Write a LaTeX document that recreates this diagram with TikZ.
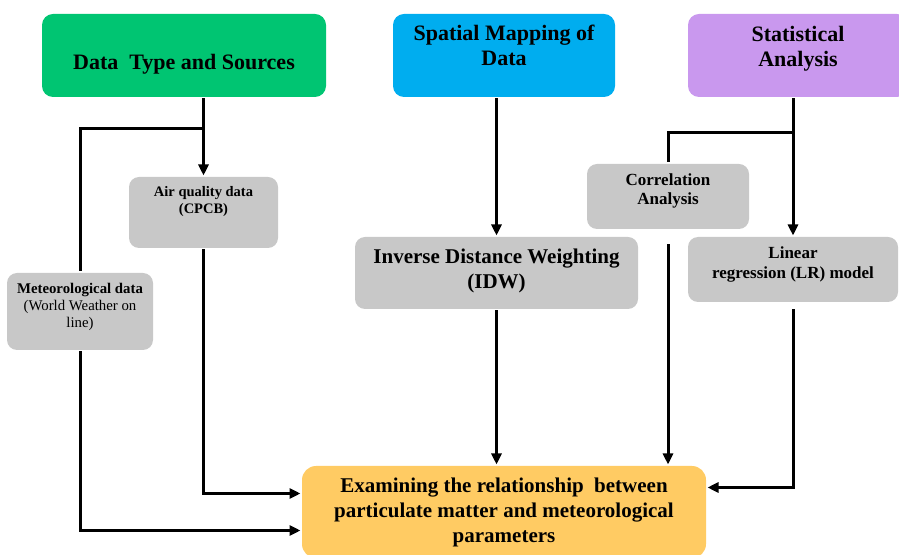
\documentclass[tikz,border=0pt]{standalone}
\usepackage{fontspec}
\setmainfont{Liberation Serif}
\usepackage{tikz}
\usetikzlibrary{arrows,arrows.meta,positioning,calc}

\definecolor{boxgreen}{HTML}{00C572}
\definecolor{boxblue}{HTML}{00ADEF}
\definecolor{boxpurple}{HTML}{C998EE}
\definecolor{boxgray}{HTML}{C8C8C8}
\definecolor{boxyellow}{HTML}{FFCB63}

\begin{document}
\begin{tikzpicture}[->,>={Triangle[length=11pt,width=10pt]},x=1pt,y=1pt,line width=3pt,
  head node/.style={rounded corners=11pt,inner sep=0pt,align=center,
    font=\fontsize{22}{25}\selectfont\bfseries,minimum height=83pt},
  sub node/.style={fill=boxgray,rounded corners=10pt,inner sep=0pt,align=center}]
    \useasboundingbox (0,0) rectangle (899,554);
    \node[head node,fill=boxgreen,minimum width=284pt,text height=33pt](data) at (184,498.5){Data\ \ Type and Sources};
    \node[head node,fill=boxblue,minimum width=222pt,text depth=21pt](spatial) at (504,498.5){Spatial Mapping of\\Data};
    \node[head node,fill=boxpurple,minimum width=220pt,text depth=18pt](stat) at (798,498.5){Statistical\\Analysis};
    \node[sub node,minimum width=149pt,minimum height=71pt,text depth=26pt,
      font=\fontsize{14.5}{17}\selectfont](air) at (203.5,341.5){\textbf{Air quality data}\\\textbf{(CPCB)}};
    \node[sub node,minimum width=146pt,minimum height=77pt,text depth=12pt,
      font=\fontsize{14.8}{17}\selectfont](meteo) at (80,242.5){\textbf{Meteorological data}\\(World Weather on\\line)};
    \node[sub node,minimum width=283pt,minimum height=72pt,text depth=8pt,
      font=\fontsize{21}{25}\selectfont\bfseries](idw) at (496.5,281){Inverse Distance Weighting\\(IDW)};
    \node[sub node,minimum width=162pt,minimum height=65pt,text depth=14pt,
      font=\fontsize{17}{19}\selectfont\bfseries](corr) at (668,357.5){Correlation\\Analysis};
    \node[sub node,minimum width=210pt,minimum height=65pt,text depth=14pt,
      font=\fontsize{17}{20}\selectfont\bfseries](lr) at (793,284.5){Linear\\regression (LR) model};
    \node[rounded corners=14pt,fill=boxyellow,inner sep=0pt,align=center,minimum width=404pt,
      minimum height=92pt,font=\fontsize{21}{25}\selectfont\bfseries](res) at (504,42)
      {Examining the relationship\ \ between\\particulate matter and meteorological\\parameters};
    \coordinate (dsplit) at (air.north |- 0,425);
    \coordinate (ssplit) at (lr.north |- 0,421);
    \draw[-] (data.south -| air.north) -- (dsplit) -| (meteo.north);
    \draw (dsplit) -- (air.north);
    \draw (spatial.south -| idw.north) -- (idw.north);
    \draw[-] (stat.south -| lr.north) -- (ssplit) -| (corr.north);
    \draw (ssplit) -- (lr.north);
    \draw (idw.south) -- (idw.south |- res.north);
    \draw[shorten <=14pt] (corr.south) -- (corr.south |- res.north);
    \draw[shorten <=6pt] (lr.south) |- ([yshift=-23pt]res.north east);
    \draw (air.south) |- ([yshift=-29pt]res.north west);
    \draw (meteo.south) |- ([yshift=-66pt]res.north west);
\end{tikzpicture}
\end{document}
